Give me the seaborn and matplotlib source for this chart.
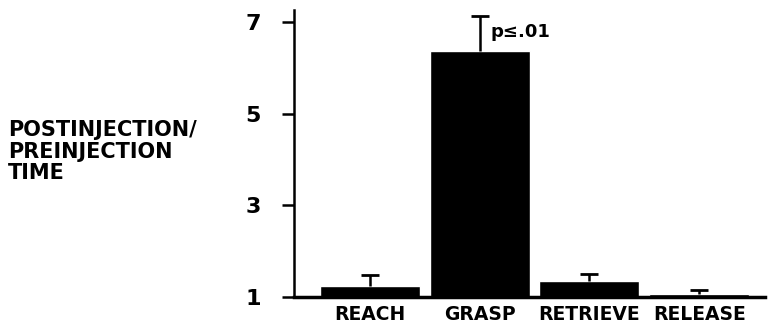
import matplotlib
matplotlib.use("Agg")
import matplotlib.pyplot as plt
import seaborn as sns
import pandas as pd

# Reaching-task component timing ratios (post / pre injection)
phases = ["REACH", "GRASP", "RETRIEVE", "RELEASE"]
ratio_means = [1.23, 6.38, 1.34, 1.05]
ratio_upper_err = [0.23, 0.76, 0.15, 0.09]
y_ticks = [1, 3, 5, 7]

df = pd.DataFrame({"phase": phases, "ratio": ratio_means})

sns.set_theme(style="white")
plt.rcParams["font.family"] = ["DejaVu Sans"]
plt.rcParams["font.weight"] = "bold"
plt.rcParams["text.color"] = "black"
plt.rcParams["xtick.color"] = "black"
plt.rcParams["ytick.color"] = "black"

fig = plt.figure(figsize=(7.73, 3.28), dpi=100)
ax = fig.add_axes([0.3803, 0.096, 0.6094, 0.8735])

sns.barplot(data=df, x="phase", y="ratio", color="black", width=0.91,
            errorbar=None, saturation=1, ax=ax)

# one-sided (upper) error whiskers
_, caps, _ = ax.errorbar(range(len(phases)), ratio_means,
                         yerr=[[0] * len(phases), ratio_upper_err],
                         fmt="none", ecolor="black", elinewidth=1.8,
                         capsize=6.5, capthick=2)
caps[0].set_visible(False)  # drop the cap sitting on the bar top

ax.set_ylim(1, 7.27)
ax.set_xlim(-0.69, 3.6)
ax.set_yticks(y_ticks)
ax.set_yticklabels([str(t) for t in y_ticks], fontsize=16, fontweight="bold",
                   color="black")
ax.tick_params(axis="y", direction="out", length=9, width=1.8, pad=15,
               colors="black", left=True)
ax.tick_params(axis="x", length=0, pad=6, colors="black")
for lbl in ax.get_xticklabels():
    lbl.set_fontsize(13.5)
    lbl.set_fontweight("bold")
    lbl.set_color("black")
ax.set_xlabel("")
ax.set_ylabel("")

for side in ["top", "right"]:
    ax.spines[side].set_visible(False)
ax.spines["left"].set_linewidth(1.8)
ax.spines["bottom"].set_linewidth(2.5)
ax.spines["left"].set_color("black")
ax.spines["bottom"].set_color("black")

ax.text(1.1, 6.79, "p≤.01", fontsize=13, fontweight="bold", color="black",
        ha="left", va="center")

fig.text(0.010, 0.538, "POSTINJECTION/\nPREINJECTION\nTIME", fontsize=15,
         fontweight="bold", color="black", ha="left", va="center",
         linespacing=1.1)

fig.savefig("out.png", dpi=100, facecolor="white")
